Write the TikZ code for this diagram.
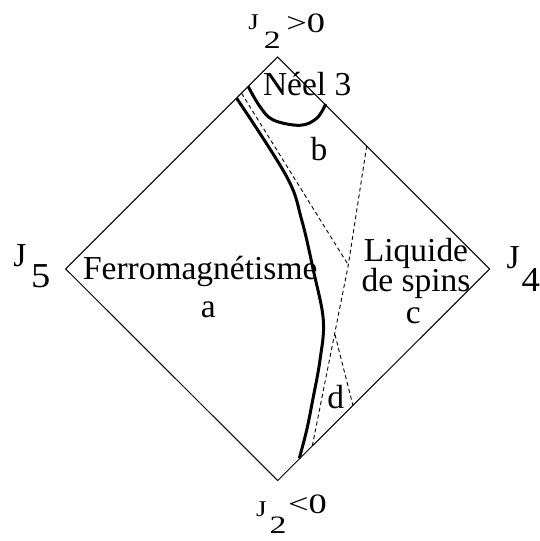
\documentclass[tikz,border=0pt]{standalone}
\usepackage{graphicx}
\usepackage{fontspec}
\setmainfont{Liberation Serif}
\newcommand\myfs[1]{\fontsize{#1}{#1}\selectfont}
\newcommand\wide[2]{\scalebox{#1}[1]{#2}}
\begin{document}
\begin{tikzpicture}[x=1pt,y=-1pt,
  edge/.style={line width=1pt, line join=miter},
  thickline/.style={line width=3pt, line cap=butt},
  dashline/.style={line width=0.9pt, dash pattern=on 4pt off 3pt},
  lbl/.style={inner sep=0pt, outer sep=0pt, anchor=base west},
  lblc/.style={inner sep=0pt, outer sep=0pt, anchor=base},
  big/.style={font=\myfs{33.5}},
  jsmall/.style={font=\myfs{22.5}},
  subsmall/.style={font=\myfs{25}},
  relsize/.style={font=\myfs{28}}]
\useasboundingbox (0,0) rectangle (540,541);
% diamond
\coordinate (T) at (277.7,57);
\coordinate (L) at (65.7,269);
\coordinate (R) at (489.7,269);
\coordinate (B) at (277.7,480.5);
\draw[edge] (T) -- (R) -- (B) -- (L) -- cycle;
% dashed boundaries
\coordinate (dA) at (241.5,93.2);
\coordinate (J) at (348.3,265);
\coordinate (dB) at (366.7,146);
\coordinate (dBend) at (312.4,445.5);
\coordinate (X) at (335,334.6);
\coordinate (dC) at (352.8,405);
\draw[dashline] (dA) -- (J);
\draw[dashline] (dB) -- (J) -- (dBend);
\draw[dashline] (X) -- (dC);
% thick main boundary
\draw[thickline] plot[smooth, tension=0.6] coordinates {(236.7,98.3) (286.7,176.7) (301.7,220) (313.3,270) (323.3,320) (320,360) (312.7,400) (306.7,430) (299.3,458.3)};
% Neel curve
\draw[thickline] plot[smooth, tension=0.6] coordinates {(248.3,86.7) (260,106.7) (273.3,120) (300,125.3) (316.7,118.3) (325.7,104)};
% labels
\node[lbl,big] (ferro) at (83,279.3) {Ferromagnétisme};
\node[lblc,big] (a) at (208.3,317) {a};
\node[lbl,big] (neel) at (263,95) {Néel 3};
\node[lblc,big] (b) at (319,160) {b};
\node[lblc,big] (liq) at (416,261.7) {Liquide};
\node[lblc,big] (despins) at (416,291.7) {de spins};
\node[lblc,big] (c) at (413.3,323.3) {c};
\node[lblc,big] (d) at (335.8,408.3) {d};
% axis labels
\node[lbl,big] (J5) at (13.3,266.7) {J};
\node[lbl,font=\myfs{35}] (J5s) at (31,287.3) {\wide{1.1}{5}};
\node[lbl,big] (J4) at (506.7,268.3) {J};
\node[lbl,font=\myfs{35}] (J4s) at (521.5,291.7) {\wide{1.05}{4}};
\node[lbl,jsmall] (Jt) at (248.3,29) {\wide{1.2}{J}};
\node[lbl,subsmall] (Jts) at (263.8,48.3) {\wide{1.35}{2}};
\node[lbl,relsize] (Jtr) at (286.3,32.3) {\wide{1.3}{>0}};
\node[lbl,jsmall] (Jb) at (256.2,516.7) {\wide{1.2}{J}};
\node[lbl,subsmall] (Jbs) at (269.5,533.3) {\wide{1.35}{2}};
\node[lbl,relsize] (Jbr) at (288,513.3) {\wide{1.3}{<0}};
\end{tikzpicture}
\end{document}
